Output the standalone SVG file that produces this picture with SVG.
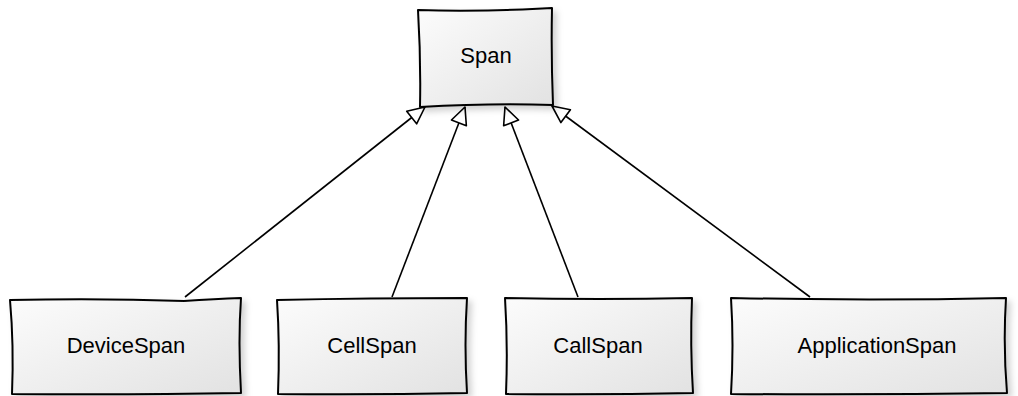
<svg xmlns="http://www.w3.org/2000/svg" width="1018" height="396" viewBox="0 0 1018 396">
<style>
.box{fill:url(#g);stroke:#000;stroke-width:2;stroke-linejoin:round;filter:url(#sh)}
.lbl{font-family:"Liberation Sans",Arial,sans-serif;font-size:22px;fill:#000;text-anchor:middle}
.edge{fill:none;stroke:#000;stroke-width:1.6;marker-end:url(#tri)}
</style>
<defs>
<linearGradient id="g" x1="0" y1="0" x2="1" y2="1">
<stop offset="0" stop-color="#fcfcfc"/>
<stop offset="1" stop-color="#e2e2e2"/>
</linearGradient>
<filter id="sh" x="-10%" y="-10%" width="130%" height="140%">
<feDropShadow dx="4" dy="4" stdDeviation="3" flood-color="#000" flood-opacity="0.18"/>
</filter>
<marker id="tri" viewBox="-19 -10 20 20" refX="0" refY="0" markerWidth="20" markerHeight="20" markerUnits="userSpaceOnUse" orient="auto">
<path d="M0,0 L-17,-8 L-17,8 Z" fill="#fff" stroke="#000" stroke-width="1.6" stroke-linejoin="round"/>
</marker>
</defs>
<g id="connectors">
<path class="edge" d="M185,297 L425,107"/>
<path class="edge" d="M392,297 L465,107"/>
<path class="edge" d="M578,297 L505,107"/>
<path class="edge" d="M810,297 L552,106"/>
</g>
<g id="Span">
<path class="box" d="M418,10 Q480,12 552,8 Q551,55 553,105 Q490,103 420,107 Q421,60 418,10 Z"/>
<text class="lbl" x="486" y="63">Span</text>
</g>
<g id="DeviceSpan">
<path class="box" d="M10,300 Q100,298 184,301 Q215,299 241,298 Q238,340 241,393 Q130,395 12,394 Q14,345 10,300 Z"/>
<text class="lbl" x="126" y="353">DeviceSpan</text>
</g>
<g id="CellSpan">
<path class="box" d="M277,300 Q370,298 467,298 Q464,345 467,393 Q370,395 278,394 Q280,345 277,300 Z"/>
<text class="lbl" x="372" y="353">CellSpan</text>
</g>
<g id="CallSpan">
<path class="box" d="M505,298 Q600,300 692,298 Q690,345 693,393 Q600,395 506,394 Q508,345 505,298 Z"/>
<text class="lbl" x="598" y="353">CallSpan</text>
</g>
<g id="ApplicationSpan">
<path class="box" d="M731,298 Q870,301 1006,298 Q1003,345 1007,393 Q870,395 731,394 Q734,345 731,298 Z"/>
<text class="lbl" x="877" y="353">ApplicationSpan</text>
</g>
</svg>
